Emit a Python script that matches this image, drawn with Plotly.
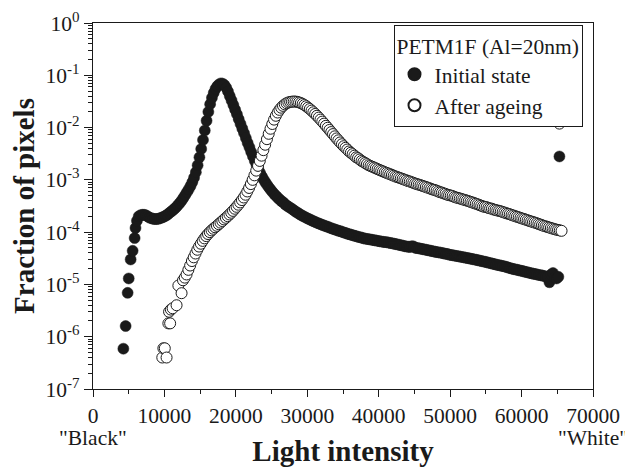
import plotly.graph_objects as go

# ---------------- data ----------------
# Initial state: sparse low-intensity points
init_low_x = [4250, 4570, 4850, 5000, 5270, 5550, 5830, 5950, 6150]
init_low_y = [5.9e-7, 1.6e-6, 6.9e-6, 1.3e-5, 3.0e-5, 4.4e-5, 7.7e-5, 1.2e-4, 1.65e-4]

# Initial state: histogram bins from 6400 in steps of 250
init_start, init_step = 6400, 250
init_y = [
    2.0e-4, 2.1e-4, 2.15e-4, 2.15e-4, 2.1e-4, 2.0e-4, 1.9e-4, 1.85e-4, 1.8e-4, 1.78e-4,
    1.78e-4, 1.8e-4, 1.85e-4, 1.9e-4, 1.97e-4, 2.05e-4, 2.15e-4, 2.3e-4, 2.45e-4, 2.6e-4,
    2.8e-4, 3.0e-4, 3.3e-4, 3.6e-4, 4.0e-4, 4.5e-4, 5.1e-4, 5.8e-4, 6.6e-4, 7.6e-4,
    9.0e-4, 1.1e-3, 1.4e-3, 1.9e-3, 2.7e-3, 3.9e-3, 5.8e-3, 8.8e-3, 0.0135, 0.020,
    0.028, 0.037, 0.046, 0.055, 0.062, 0.067, 0.070, 0.069, 0.065, 0.058,
    0.049, 0.040, 0.033, 0.027, 0.022, 0.018, 0.0145, 0.0118, 0.0096, 0.0078,
    0.0063, 0.0051, 0.0042, 0.0034, 0.0028, 0.0023, 0.0019, 0.0016, 0.00135, 0.00116,
    0.00101, 0.00089, 0.00079, 0.00071, 0.00064, 0.00058, 0.00053, 0.00049, 0.00045, 0.00042,
    0.00039, 0.00037, 0.00034, 0.00032, 0.000305, 0.00029, 0.000275, 0.00026, 0.000245, 0.000235,
    0.000222, 0.000212, 0.000203, 0.000195, 0.000187, 0.00018, 0.000174, 0.000167, 0.000161, 0.000156,
    0.00015, 0.000146, 0.000141, 0.000137, 0.000133, 0.000129, 0.000126, 0.000122, 0.000118, 0.000115,
    0.000112, 0.000109, 0.000106, 0.000104, 0.000101, 9.8e-5, 9.6e-5, 9.3e-5, 9.1e-5, 8.9e-5,
    8.7e-5, 8.5e-5, 8.3e-5, 8.1e-5, 8.0e-5, 7.8e-5, 7.6e-5, 7.5e-5, 7.4e-5, 7.3e-5,
    7.2e-5, 7.1e-5, 7.0e-5, 6.9e-5, 6.8e-5, 6.7e-5, 6.6e-5, 6.5e-5, 6.45e-5, 6.4e-5,
    6.3e-5, 6.2e-5, 6.1e-5, 6.0e-5, 5.9e-5, 5.8e-5, 5.7e-5, 5.6e-5, 5.5e-5, 5.4e-5,
    5.3e-5, 5.25e-5, 5.2e-5, 5.4e-5, 5.3e-5, 5.0e-5, 4.95e-5, 4.9e-5, 4.8e-5, 4.75e-5,
    4.65e-5, 4.6e-5, 4.5e-5, 4.45e-5, 4.35e-5, 4.3e-5, 4.2e-5, 4.15e-5, 4.1e-5, 4.05e-5,
    4.0e-5, 3.9e-5, 3.85e-5, 3.8e-5, 3.7e-5, 3.65e-5, 3.6e-5, 3.55e-5, 3.5e-5, 3.45e-5,
    3.4e-5, 3.35e-5, 3.3e-5, 3.25e-5, 3.2e-5, 3.15e-5, 3.1e-5, 3.05e-5, 3.0e-5, 2.95e-5,
    2.9e-5, 2.85e-5, 2.8e-5, 2.75e-5, 2.7e-5, 2.65e-5, 2.6e-5, 2.55e-5, 2.5e-5, 2.45e-5,
    2.4e-5, 2.36e-5, 2.32e-5, 2.28e-5, 2.24e-5, 2.2e-5, 2.15e-5, 2.1e-5, 2.05e-5, 2.0e-5,
    1.97e-5, 1.93e-5, 1.9e-5, 1.86e-5, 1.83e-5, 1.8e-5, 1.76e-5, 1.72e-5, 1.7e-5, 1.66e-5,
    1.63e-5, 1.6e-5, 1.58e-5, 1.55e-5, 1.52e-5, 1.5e-5, 1.48e-5, 1.45e-5, 1.42e-5, 1.4e-5,
    1.1e-5, 1.55e-5, 1.65e-5, 1.35e-5, 1.3e-5, 1.4e-5,
]
init_white_x = [65300]
init_white_y = [2.8e-3]

# After ageing: sparse low-intensity points
aged_low_x = [9700, 9850, 10050, 10300, 10550, 10800, 10650, 10900, 11150, 11700, 11950, 12400]
aged_low_y = [4.0e-7, 6.0e-7, 6.0e-7, 4.0e-7, 1.8e-6, 1.8e-6, 3.0e-6, 3.3e-6, 3.5e-6, 4.0e-6, 9.5e-6, 6.8e-6]

# After ageing: histogram bins from 12600 in steps of 250
aged_start, aged_step = 12600, 250
aged_y = [
    1.2e-5, 1.35e-5, 1.55e-5, 1.9e-5, 2.3e-5, 2.8e-5, 3.3e-5, 3.9e-5, 4.6e-5, 5.3e-5,
    6.0e-5, 6.8e-5, 7.6e-5, 8.4e-5, 9.2e-5, 1.0e-4, 1.08e-4, 1.16e-4, 1.24e-4, 1.32e-4,
    1.42e-4, 1.52e-4, 1.63e-4, 1.75e-4, 1.88e-4, 2.02e-4, 2.18e-4, 2.35e-4, 2.55e-4, 2.8e-4,
    3.05e-4, 3.35e-4, 3.7e-4, 4.1e-4, 4.6e-4, 5.2e-4, 6.0e-4, 7.0e-4, 8.3e-4, 1.0e-3,
    1.22e-3, 1.5e-3, 1.85e-3, 2.3e-3, 2.9e-3, 3.7e-3, 4.7e-3, 6.0e-3, 7.6e-3, 9.5e-3,
    0.0117, 0.0142, 0.0168, 0.0194, 0.0218, 0.024, 0.026, 0.0278, 0.0292, 0.0302,
    0.0309, 0.0313, 0.0315, 0.0314, 0.031, 0.0303, 0.0294, 0.0283, 0.027, 0.0256,
    0.0241, 0.0226, 0.0211, 0.0196, 0.0182, 0.0168, 0.0155, 0.0142, 0.013, 0.0119,
    0.0108, 0.0099, 0.0090, 0.0082, 0.0075, 0.0068, 0.0062, 0.0057, 0.0052, 0.0048,
    0.0044, 0.0041, 0.0038, 0.0035, 0.0033, 0.0031, 0.0029, 0.0027, 0.0026, 0.00245,
    0.0023, 0.0022, 0.0021, 0.002, 0.0019, 0.00184, 0.00178, 0.00172, 0.00166, 0.0016,
    0.00155, 0.0015, 0.00145, 0.0014, 0.00136, 0.00132, 0.00128, 0.00124, 0.0012, 0.00116,
    0.00113, 0.0011, 0.00107, 0.00104, 0.00101, 0.00098, 0.00095, 0.00093, 0.0009, 0.00088,
    0.00085, 0.00083, 0.00081, 0.00079, 0.00077, 0.00075, 0.00073, 0.00071, 0.00069, 0.00067,
    0.00065, 0.00064, 0.00062, 0.0006, 0.00058, 0.00057, 0.00055, 0.00054, 0.00052, 0.00051,
    0.0005, 0.00049, 0.00047, 0.00046, 0.00045, 0.00044, 0.00043, 0.00042, 0.00041, 0.0004,
    0.00039, 0.00038, 0.00037, 0.00036, 0.00035, 0.00034, 0.00033, 0.00032, 0.00031, 0.000305,
    0.0003, 0.00029, 0.000285, 0.00028, 0.00027, 0.000265, 0.00026, 0.000255, 0.00025, 0.000243,
    0.000237, 0.00023, 0.000225, 0.00022, 0.000213, 0.000208, 0.000202, 0.000197, 0.000192, 0.000187,
    0.000182, 0.000178, 0.000173, 0.000168, 0.000164, 0.00016, 0.000156, 0.000152, 0.000148, 0.000144,
    0.00014, 0.000136, 0.000132, 0.000129, 0.000126, 0.000123, 0.00012, 0.000117, 0.000114, 0.000112,
    0.00011, 0.000108, 0.000106,
]
aged_white_x = [65300]
aged_white_y = [0.0119]

x_tick_vals = [0, 10000, 20000, 30000, 40000, 50000, 60000, 70000]
x_tick_text = ["0", "10000", "20000", "30000", "40000", "50000", "60000", "70000"]
x_minor_vals = [5000, 15000, 25000, 35000, 45000, 55000, 65000]
y_exponents = [-7, -6, -5, -4, -3, -2, -1, 0]

# ---------------- build series ----------------
init_x_all = init_low_x + [init_start + init_step * i for i in range(len(init_y))] + init_white_x
init_y_all = init_low_y + init_y + init_white_y
aged_x_all = aged_low_x + [aged_start + aged_step * i for i in range(len(aged_y))] + aged_white_x
aged_y_all = aged_low_y + aged_y + aged_white_y

y_tick_vals = [10.0 ** e for e in y_exponents]
y_tick_text = ["10<sup>%d</sup>" % e for e in y_exponents]
y_minor_vals = [k * 10.0 ** e for e in y_exponents[:-1] for k in range(2, 10)]

FONT = "Liberation Serif"
INK = "#1a1a1a"
FS = 21.5

fig = go.Figure()
fig.add_trace(go.Scatter(
    x=init_x_all, y=init_y_all, mode="markers", name="Initial state",
    marker=dict(symbol="circle", size=11, color=INK, line=dict(color=INK, width=0.5)),
))
fig.add_trace(go.Scatter(
    x=aged_x_all, y=aged_y_all, mode="markers", name="After ageing",
    marker=dict(symbol="circle", size=11, color="white", line=dict(color=INK, width=1)),
))

axis_common = dict(showgrid=False, zeroline=False, linecolor=INK, linewidth=1.2,
                   tickcolor=INK, tickwidth=1.2)

fig.update_layout(
    width=625, height=459,
    margin=dict(l=85, r=40, t=15, b=78, autoexpand=False),
    paper_bgcolor="white", plot_bgcolor="white",
    font=dict(family=FONT, size=FS, color=INK),
    showlegend=True,
    legend=dict(
        title=dict(text="PETM1F (Al=20nm)", font=dict(family=FONT, size=FS), side="top"),
        x=0.979, xanchor="right", y=0.995, yanchor="top",
        bordercolor=INK, borderwidth=1, bgcolor="white",
        font=dict(family=FONT, size=FS), tracegroupgap=0, itemsizing="constant",
    ),
    xaxis=dict(
        **axis_common, range=[0, 70000], showline=True, mirror=True,
        ticks="outside", ticklen=7, tickvals=x_tick_vals, ticktext=x_tick_text,
        minor=dict(ticks="outside", ticklen=4, tickvals=x_minor_vals, tickcolor=INK, showgrid=False),
        title=dict(text="<b>Light intensity</b>", font=dict(family=FONT, size=29), standoff=14),
        automargin=False,
    ),
    yaxis=dict(
        **axis_common, type="log", range=[-7, 0], showline=True, mirror=True,
        ticks="outside", ticklen=8, tickvals=y_tick_vals, ticktext=y_tick_text,
        minor=dict(ticks="outside", ticklen=4, tickvals=y_minor_vals, tickcolor=INK, showgrid=False),
        title=dict(text="<b>Fraction of pixels</b>", font=dict(family=FONT, size=29), standoff=14),
        automargin=False,
    ),
    xaxis2=dict(
        **axis_common, range=[0, 70000], overlaying="x", side="top", anchor="y",
        showline=False, ticks="inside", ticklen=7, tickvals=x_tick_vals, showticklabels=False,
        minor=dict(ticks="inside", ticklen=4, tickvals=x_minor_vals, tickcolor=INK, showgrid=False),
    ),
    yaxis2=dict(
        **axis_common, type="log", range=[-7, 0], overlaying="y", side="right", anchor="x",
        showline=False, ticks="inside", ticklen=8, tickvals=y_tick_vals, showticklabels=False,
        minor=dict(ticks="inside", ticklen=4, tickvals=y_minor_vals, tickcolor=INK, showgrid=False),
    ),
    annotations=[
        dict(text='"Black"', x=0, xref="x", y=-0.133, yref="paper", showarrow=False,
             xanchor="center", yanchor="middle", font=dict(family=FONT, size=FS)),
        dict(text='"White"', x=70000, xref="x", y=-0.133, yref="paper", showarrow=False,
             xanchor="center", yanchor="middle", font=dict(family=FONT, size=FS)),
    ],
)

fig.write_html("out.html")
